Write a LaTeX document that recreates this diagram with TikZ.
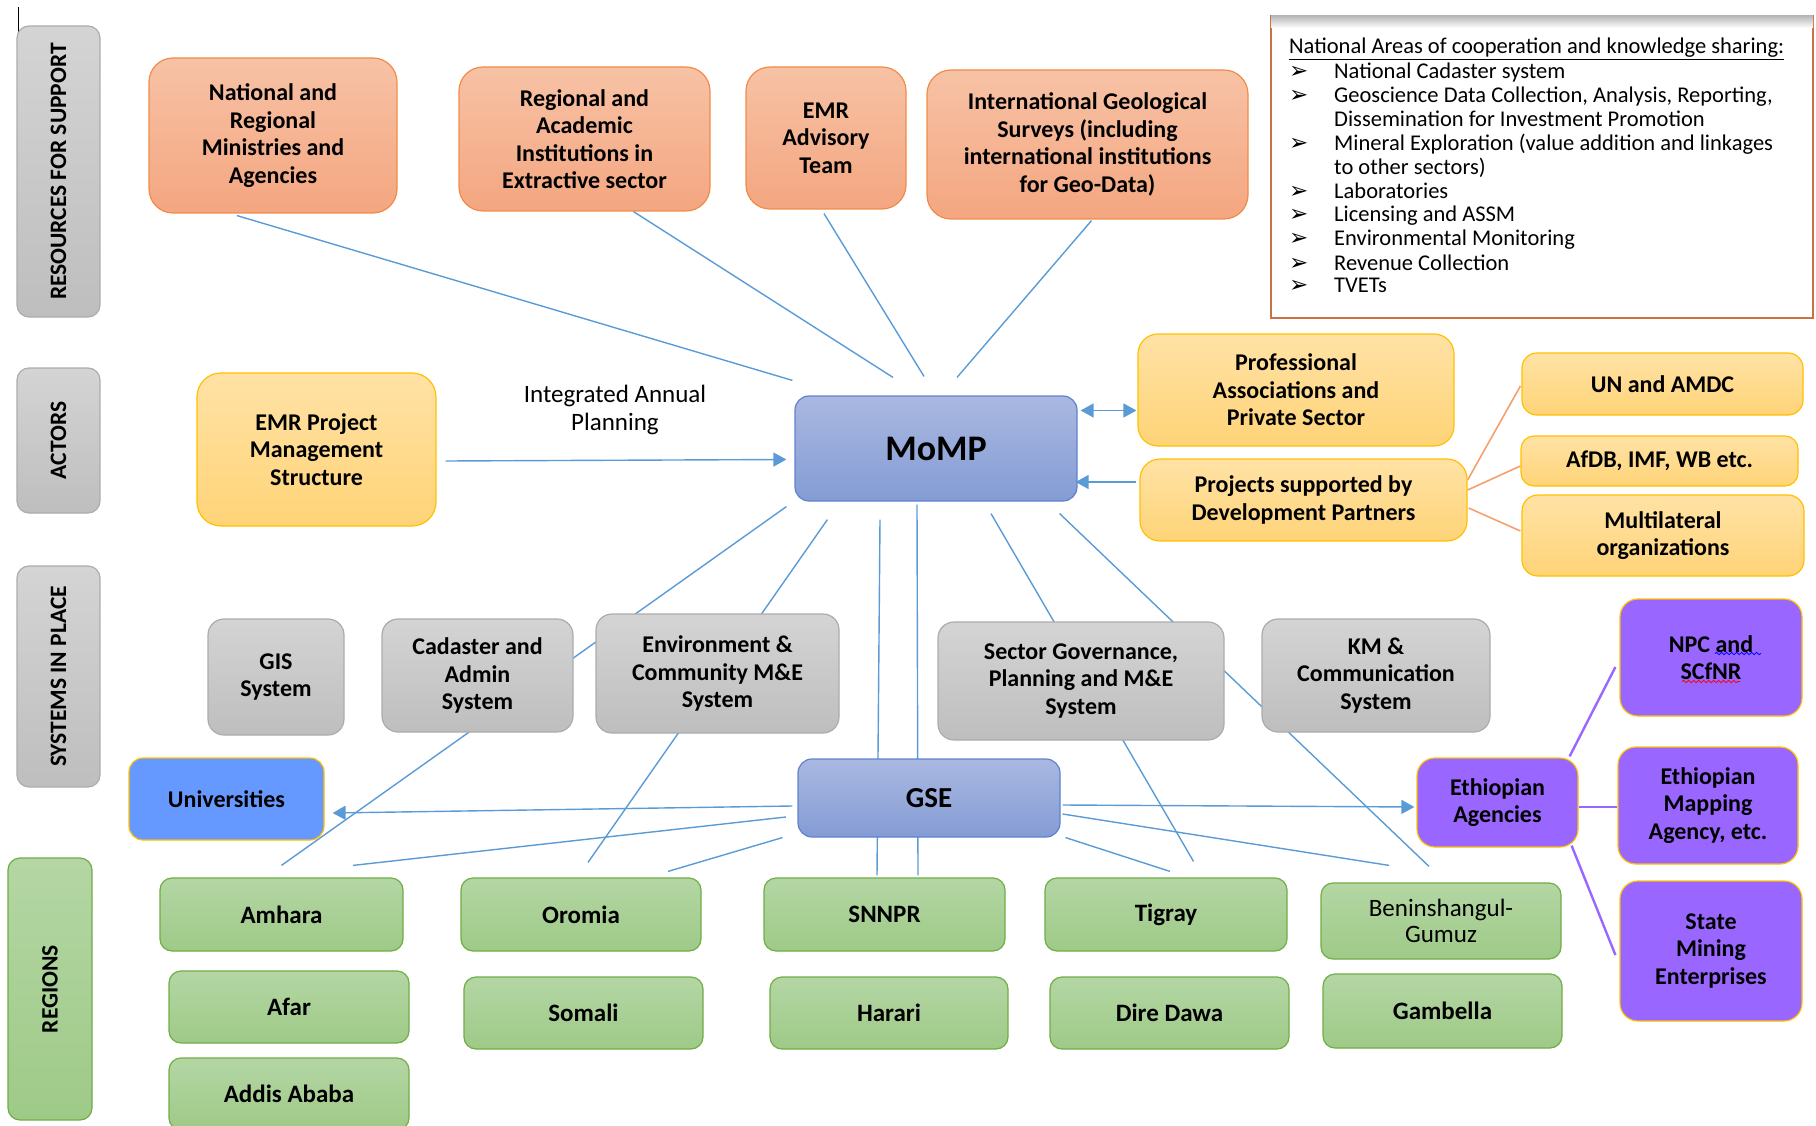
\documentclass[tikz,border=0pt]{standalone}
\usepackage{fontspec}
\setmainfont{Carlito}
\newfontfamily\dingfont{DejaVu Sans}
\usetikzlibrary{arrows.meta,calc,decorations.pathmorphing}

\definecolor{linkblue}{RGB}{91,155,213}
\definecolor{orangetop}{RGB}{247,194,165}
\definecolor{orangebot}{RGB}{244,166,128}
\definecolor{orangeline}{RGB}{240,140,75}
\definecolor{yellowtop}{RGB}{255,226,165}
\definecolor{yellowbot}{RGB}{255,212,120}
\definecolor{yellowline}{RGB}{255,192,0}
\definecolor{graytop}{RGB}{212,212,212}
\definecolor{graybot}{RGB}{190,190,190}
\definecolor{grayline}{RGB}{172,172,172}
\definecolor{bluetop}{RGB}{170,184,225}
\definecolor{bluebot}{RGB}{132,156,212}
\definecolor{blueline}{RGB}{95,130,205}
\definecolor{greentop}{RGB}{180,214,164}
\definecolor{greenbot}{RGB}{158,202,135}
\definecolor{greenline}{RGB}{112,173,71}
\definecolor{univblue}{RGB}{102,153,255}
\definecolor{agencypurple}{RGB}{153,102,255}
\definecolor{listframe}{RGB}{200,115,65}
\definecolor{partnerorange}{RGB}{244,160,110}

\pgfdeclarelayer{back}
\pgfsetlayers{back,main}

\newcommand\boxfont{\bfseries\fontsize{24}{27.5}\selectfont}

\tikzset{
  dims/.style 2 args={minimum width=#1pt, minimum height=#2pt},
  box/.style={rounded corners=14pt, align=center, inner sep=2pt, line width=1.2pt, font=\boxfont},
  resource/.style={box, rounded corners=24pt, top color=orangetop, bottom color=orangebot, draw=orangeline},
  actor/.style={box, rounded corners=20pt, top color=yellowtop, bottom color=yellowbot, draw=yellowline},
  system/.style={box, rounded corners=16pt, top color=graytop, bottom color=graybot, draw=grayline},
  hub/.style={box, top color=bluetop, bottom color=bluebot, draw=blueline},
  region/.style={box, rounded corners=12pt, top color=greentop, bottom color=greenbot, draw=greenline, font=\bfseries\fontsize{25}{27.5}\selectfont},
  agency/.style={box, rounded corners=18pt, fill=agencypurple, draw=yellowline},
  sidelabel/.style={box, rounded corners=12pt, rotate=90, top color=graytop, bottom color=graybot, draw=grayline, font=\bfseries\fontsize{23.5}{24}\selectfont},
  listtext/.style={anchor=base west, inner sep=0pt, font=\fontsize{22.5}{24}\selectfont},
  bulletmark/.style={anchor=base west, inner sep=0pt, font=\dingfont\bfseries\fontsize{23}{23}\selectfont},
  link/.style={draw=linkblue, line width=1.4pt},
  arrowto/.style={link, -{Triangle[length=13pt,width=14pt]}},
  arrowboth/.style={link, {Triangle[length=13pt,width=14pt]}-{Triangle[length=13pt,width=14pt]}},
  partnerlink/.style={draw=partnerorange, line width=1.6pt},
  agencylink/.style={draw=agencypurple, line width=2.4pt},
  spellmark/.style={line width=0.8pt, decorate, decoration={snake, amplitude=1.2pt, segment length=5pt}},
}

\begin{document}
\begin{tikzpicture}[x=1pt,y=-1pt]
\useasboundingbox (0,0) rectangle (1816,1126);

% stray mark, top left
\draw[line width=1.2pt] (18.5,7) -- (18.5,32);

% side labels
\node[sidelabel, dims={291}{83}] (resources) at (58.5,171.5) {RESOURCES FOR SUPPORT};
\node[sidelabel, dims={145}{83}] (actors) at (58.5,440.5) {ACTORS};
\node[sidelabel, dims={221}{83}] (systems) at (58.5,676.5) {SYSTEMS IN PLACE};
\node[sidelabel, dims={262}{84}, top color=greentop, bottom color=greenbot, draw=greenline] (regions) at (50,989) {REGIONS};

% resources for support
\node[resource, dims={248}{155}] (national) at (273,135.5) {National and\\Regional\\Ministries and\\Agencies};
\node[resource, dims={251}{144}] (regional) at (584.5,139) {Regional and\\Academic\\Institutions in\\Extractive sector};
\node[resource, dims={160}{142}] (advisory) at (826,138) {EMR\\Advisory\\Team};
\node[resource, dims={321}{149}] (intl) at (1087.5,144.5) {International Geological\\Surveys (including\\international institutions\\for Geo-Data)};

% areas of cooperation
\node[draw=listframe, line width=2pt, fill=white, dims={542}{302}, inner sep=0pt] (areas) at (1542,167) {};
\shade[top color=gray!55, bottom color=white] ($(areas.north west)+(1,1)$) rectangle ($(areas.north east)+(-1,13)$);
\node[listtext] (areastitle) at (1289,54) {\underline{National Areas of cooperation and knowledge sharing:}};
\foreach \yb/\txt [count=\i] in {78.5/{National Cadaster system},
    102.5/{Geoscience Data Collection, Analysis, Reporting,},
    126.5/{Dissemination for Investment Promotion},
    150.5/{Mineral Exploration (value addition and linkages},
    174.5/{to other sectors)},
    198.5/{Laboratories},
    221.5/{Licensing and ASSM},
    245.5/{Environmental Monitoring},
    270.5/{Revenue Collection},
    292.5/{TVETs}}
  \node[listtext] (item\i) at (1334,\yb) {\txt};
\foreach \yb [count=\i] in {78.5,102.5,150.5,198.5,221.5,245.5,270.5,292.5}
  \node[bulletmark] (bullet\i) at (1289,\yb) {➢};

% actors
\node[actor, rounded corners=24pt, dims={239}{153}] (emrpms) at (316.5,449.5) {EMR Project\\Management\\Structure};
\node[inner sep=0pt, align=center, font=\fontsize{25}{28}\selectfont] (planning) at (615,410) {Integrated Annual\\Planning};
\node[hub, dims={282}{105}, font=\bfseries\fontsize{36}{40}\selectfont] (momp) at (936,448.5) {MoMP};
\node[actor, dims={316}{112}] (prof) at (1296,390) {Professional\\Associations and\\Private Sector};
\node[actor, dims={327}{82}] (projects) at (1303.5,500) {Projects supported by\\Development Partners};
\node[actor, rounded corners=15pt, dims={281}{62}] (un) at (1662.5,384) {UN and AMDC};
\node[actor, rounded corners=13pt, dims={277}{50}] (afdb) at (1659.5,461) {AfDB, IMF, WB etc.};
\node[actor, rounded corners=16pt, dims={282}{81}] (multi) at (1663,535.5) {Multilateral\\organizations};

% systems in place
\node[system, dims={136}{116}] (gis) at (276,677) {GIS\\System};
\node[system, dims={191}{113}] (cadaster) at (477.5,675.5) {Cadaster and\\Admin\\System};
\node[system, dims={243}{119}] (envir) at (717.5,673.5) {Environment \&\\Community M\&E\\System};
\node[system, dims={286}{118}] (sector) at (1081,681) {Sector Governance,\\Planning and M\&E\\System};
\node[system, dims={228}{113}] (km) at (1376,675.5) {KM \&\\Communication\\System};

\node[box, dims={195}{82}, fill=univblue, draw=yellowline] (univ) at (226.5,799) {Universities};
\node[hub, dims={262}{78}, font=\bfseries\fontsize{29}{32}\selectfont] (gse) at (929,798) {GSE};

% agencies
\node[agency, dims={161}{89}] (ethio) at (1497.5,802.5) {Ethiopian\\Agencies};
\node[agency, dims={182}{117}] (npc) at (1711,657.5) {NPC and\\SCfNR};
\node[agency, dims={180}{117}] (mapping) at (1708,805.5) {Ethiopian\\Mapping\\Agency, etc.};
\node[agency, dims={182}{140}] (state) at (1711,951) {State\\Mining\\Enterprises};
\draw[spellmark, blue] ($(npc.center)+(4,-4)$) -- ++(46,0);
\draw[spellmark, red] ($(npc.center)+(-29,24)$) -- ++(58,0);

% regions
\node[region, dims={243}{73}] (amhara) at (281.5,914.5) {Amhara};
\node[region, dims={240}{73}] (oromia) at (581,914.5) {Oromia};
\node[region, dims={241}{73}] (snnpr) at (884.5,914.5) {SNNPR};
\node[region, dims={242}{73}] (tigray) at (1166,914.5) {Tigray};
\node[region, dims={240}{76}, font=\fontsize{25}{26}\selectfont] (benish) at (1441,921) {Beninshangul-\\Gumuz};
\node[region, dims={240}{72}] (afar) at (289,1007) {Afar};
\node[region, dims={239}{72}] (somali) at (583.5,1013) {Somali};
\node[region, dims={238}{72}] (harari) at (889,1013) {Harari};
\node[region, dims={239}{72}] (diredawa) at (1169.5,1013) {Dire Dawa};
\node[region, dims={239}{74}] (gambella) at (1442.5,1011) {Gambella};
\node[region, dims={240}{72}] (addis) at (289,1094) {Addis Ababa};

\begin{pgfonlayer}{back}
% support to MoMP
\draw[link] ($(national.south)+(-36,2)$) -- ($(momp.north west)+(-2,-15)$);
\draw[link] ($(regional.south)+(49,0)$) -- ($(momp.north)+(-43,-18)$);
\draw[link] ($(advisory.south)+(-2,4)$) -- ($(momp.north)+(-12,-19)$);
\draw[link] ($(intl.south)+(4,1)$) -- ($(momp.north)+(21,-18)$);
% actors
\draw[arrowto] ($(emrpms.east)+(9,11.5)$) -- ($(momp.west)+(-8,11)$);
\draw[arrowboth] ($(momp.east)+(3,-38)$) -- ($(prof.west)+(-1,20.5)$);
\draw[arrowto] ($(projects.west)+(-3,-18)$) -- ($(momp.east)+(-2,33.5)$);
\draw[partnerlink] ($(projects.east)+(0,-20)$) -- ($(un.west)+(-1,2)$);
\draw[partnerlink] ($(projects.east)+(0,-10)$) -- ($(afdb.west)+(0,5)$);
\draw[partnerlink] ($(projects.east)+(1,8)$) -- ($(multi.west)+(-1,-4.5)$);
% MoMP down to the regions
\draw[link] ($(momp.south west)+(-8,5)$) -- ($(amhara.north)+(0,-12)$);
\draw[link] ($(momp.south west)+(33,18)$) -- ($(oromia.north)+(7,-15)$);
\draw[link] ($(momp.south)+(-56,18)$) -- ($(snnpr.north)+(-7.5,-2)$);
\draw[link] ($(momp.south)+(-19,3)$) -- ($(snnpr.north)+(33.5,-2)$);
\draw[link] ($(momp.south)+(55,12)$) -- ($(tigray.north)+(27.5,-16)$);
\draw[link] ($(momp.south east)+(-18,12)$) -- ($(benish.north)+(-12,-16)$);
% GSE
\draw[arrowto] ($(gse.west)+(-5,8)$) -- ($(univ.east)+(8,14)$);
\draw[link] ($(gse.west)+(-11.5,19)$) -- ($(amhara.north)+(71.5,-12)$);
\draw[link] ($(gse.south west)+(-15,0)$) -- ($(oromia.north)+(87,-6)$);
\draw[arrowto] ($(gse.east)+(2,7)$) -- ($(ethio.west)+(-2,4.5)$);
\draw[link] ($(gse.east)+(2,16)$) -- ($(benish.north)+(-52,-17)$);
\draw[link] ($(gse.south east)+(5,0)$) -- ($(tigray.north)+(4,-6)$);
% agencies
\draw[agencylink] ($(ethio.north east)+(-9,-1)$) -- ($(npc.west)+(-4,9.5)$);
\draw[agencylink] ($(ethio.east)+(0,4.5)$) -- ($(mapping.west)+(0,1.5)$);
\draw[agencylink] ($(ethio.south east)+(-7,-2)$) -- ($(state.west)+(-4,4)$);
\end{pgfonlayer}
\end{tikzpicture}
\end{document}
